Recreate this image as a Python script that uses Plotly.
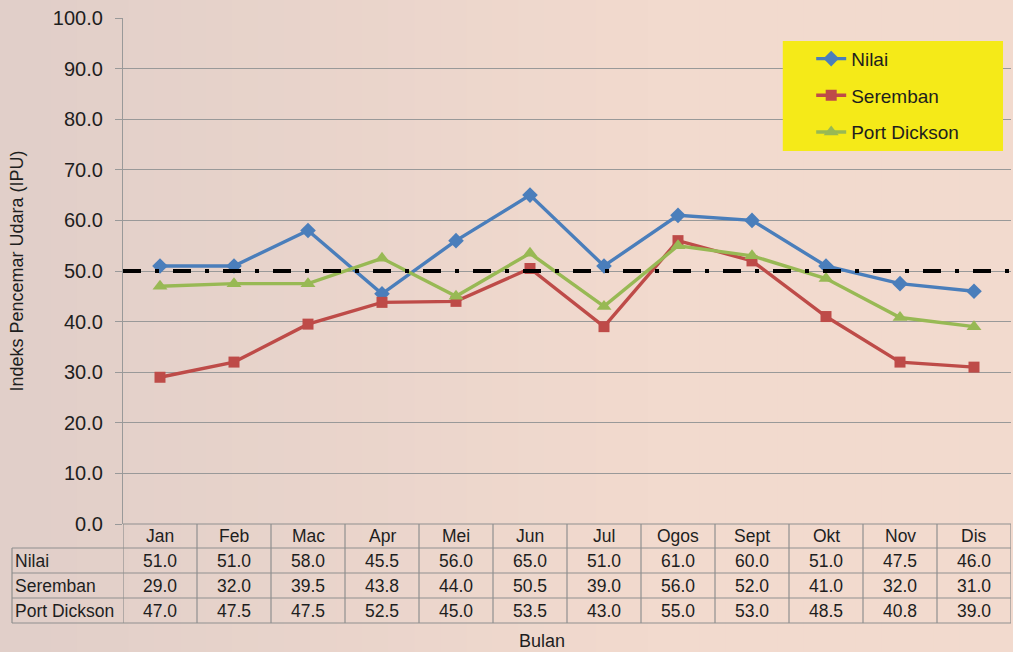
import plotly.graph_objects as go

months = ["Jan", "Feb", "Mac", "Apr", "Mei", "Jun", "Jul", "Ogos", "Sept", "Okt", "Nov", "Dis"]
nilai = [51.0, 51.0, 58.0, 45.5, 56.0, 65.0, 51.0, 61.0, 60.0, 51.0, 47.5, 46.0]
seremban = [29.0, 32.0, 39.5, 43.8, 44.0, 50.5, 39.0, 56.0, 52.0, 41.0, 32.0, 31.0]
port_dickson = [47.0, 47.5, 47.5, 52.5, 45.0, 53.5, 43.0, 55.0, 53.0, 48.5, 40.8, 39.0]
threshold = 50.0
y_ticks = [0, 10, 20, 30, 40, 50, 60, 70, 80, 90, 100]

series = [
    ("Nilai", nilai, "#4a7ebb", "diamond", 12),
    ("Seremban", seremban, "#be4b48", "square", 11),
    ("Port Dickson", port_dickson, "#98b954", "triangle-up", 13),
]

FONT = "Liberation Sans, Arial, sans-serif"
TXT = "#1e1e1e"
fig = go.Figure()

for name, vals, col, sym, sz in series:
    fig.add_trace(go.Scatter(
        x=months, y=vals, name=name, mode="lines+markers", legendgroup=name,
        line=dict(color=col, width=3.4),
        marker=dict(symbol=sym, size=sz, color=col),
    ))

shapes = []
# background gradient strips (style only)
n = 40
for i in range(n):
    t = i / (n - 1)
    f = min(1, t * 1.6)
    r = int(225 + (242 - 225) * f)
    g = int(207 + (218 - 207) * f)
    b = int(201 + (206 - 201) * f)
    x0 = -0.14 + i * (1.17 / n)
    shapes.append(dict(type="rect", xref="paper", yref="paper",
                       x0=x0, x1=x0 + 1.17 / n + 0.002, y0=-0.3, y1=1.1,
                       fillcolor=f"rgb({r},{g},{b})", line=dict(width=0),
                       layer="below"))

# legend background box
shapes.append(dict(type="rect", xref="paper", yref="paper",
                   x0=0.743, x1=0.991, y0=0.737, y1=0.9545,
                   fillcolor="#f5ea18", line=dict(width=0), layer="above"))

# threshold dash-dot line
shapes.append(dict(type="line", xref="paper", yref="y", x0=0, x1=1,
                   y0=threshold, y1=threshold,
                   line=dict(color="black", width=4, dash="18px,14px,4px,14px"),
                   layer="above"))

# data table grid
row_px = [0, 24, 49, 74, 99]
row_tops = [-p / 506.0 for p in row_px]
grid_col = "#8f8f8f"
label_x0 = -0.125
for k, yv in enumerate(row_tops):
    shapes.append(dict(type="line", xref="paper", yref="paper",
                       x0=label_x0 if k >= 1 else 0, x1=1, y0=yv, y1=yv,
                       line=dict(color=grid_col, width=1.2)))
for i in range(len(months) + 1):
    shapes.append(dict(type="line", xref="x", yref="paper",
                       x0=i - 0.5, x1=i - 0.5, y0=row_tops[0], y1=row_tops[-1],
                       line=dict(color=grid_col, width=1.2)))
shapes.append(dict(type="line", xref="paper", yref="paper",
                   x0=label_x0, x1=label_x0, y0=row_tops[1], y1=row_tops[-1],
                   line=dict(color=grid_col, width=1.2)))

TF = 17.5
annotations = []
for i, m in enumerate(months):
    annotations.append(dict(x=m, xref="x", yref="paper",
                            y=(row_tops[0] + row_tops[1]) / 2, text=m,
                            showarrow=False, font=dict(size=TF, color=TXT, family=FONT),
                            xanchor="center", yanchor="middle"))
for r, (name, vals, col, sym, sz) in enumerate(series):
    yc = (row_tops[r + 1] + row_tops[r + 2]) / 2
    annotations.append(dict(x=label_x0 + 0.001, xref="paper", yref="paper", y=yc,
                            text=name, showarrow=False, xanchor="left", yanchor="middle",
                            font=dict(size=TF, color=TXT, family=FONT)))
    for i, v in enumerate(vals):
        annotations.append(dict(x=months[i], xref="x", yref="paper", y=yc,
                                text=f"{v:.1f}", showarrow=False,
                                xanchor="center", yanchor="middle",
                                font=dict(size=TF, color=TXT, family=FONT)))
annotations.append(dict(x=(542 - 123) / 888, xref="paper", y=-(641 - 524) / 506, yref="paper",
                        text="Bulan", showarrow=False,
                        font=dict(size=18, color=TXT, family=FONT),
                        xanchor="center", yanchor="middle"))

fig.update_layout(
    width=1013, height=652,
    margin=dict(l=123, r=2, t=18, b=128),
    paper_bgcolor="#ecd6cc",
    plot_bgcolor="rgba(0,0,0,0)",
    font=dict(family=FONT, color=TXT),
    shapes=shapes,
    annotations=annotations,
    showlegend=True,
    legend=dict(x=0.775, y=0.957, xanchor="left", yanchor="top",
                bgcolor="rgba(0,0,0,0)", borderwidth=0,
                font=dict(size=19, color=TXT, family=FONT),
                itemwidth=30, tracegroupgap=9),
    xaxis=dict(range=[-0.5, len(months) - 0.5], showticklabels=False,
               showgrid=False, zeroline=False, showline=False, ticks="",
               fixedrange=True),
    yaxis=dict(range=[0, 100], tickvals=y_ticks,
               ticktext=[f"{v:.1f}" for v in y_ticks],
               tickfont=dict(size=20, color=TXT, family=FONT),
               showgrid=True, gridcolor="#999999", gridwidth=1.2,
               showline=True, linecolor="#999999", linewidth=1.2,
               ticks="outside", ticklen=7, tickcolor="#999999",
               ticklabelstandoff=8,
               zeroline=False,
               title=dict(text="Indeks Pencemar Udara (IPU)", standoff=24,
                          font=dict(size=18, color=TXT, family=FONT))),
)

fig.write_html("out.html", config={"displayModeBar": False},
               post_script="document.body.style.margin='0px';document.body.style.background='#ecd6cc';")
